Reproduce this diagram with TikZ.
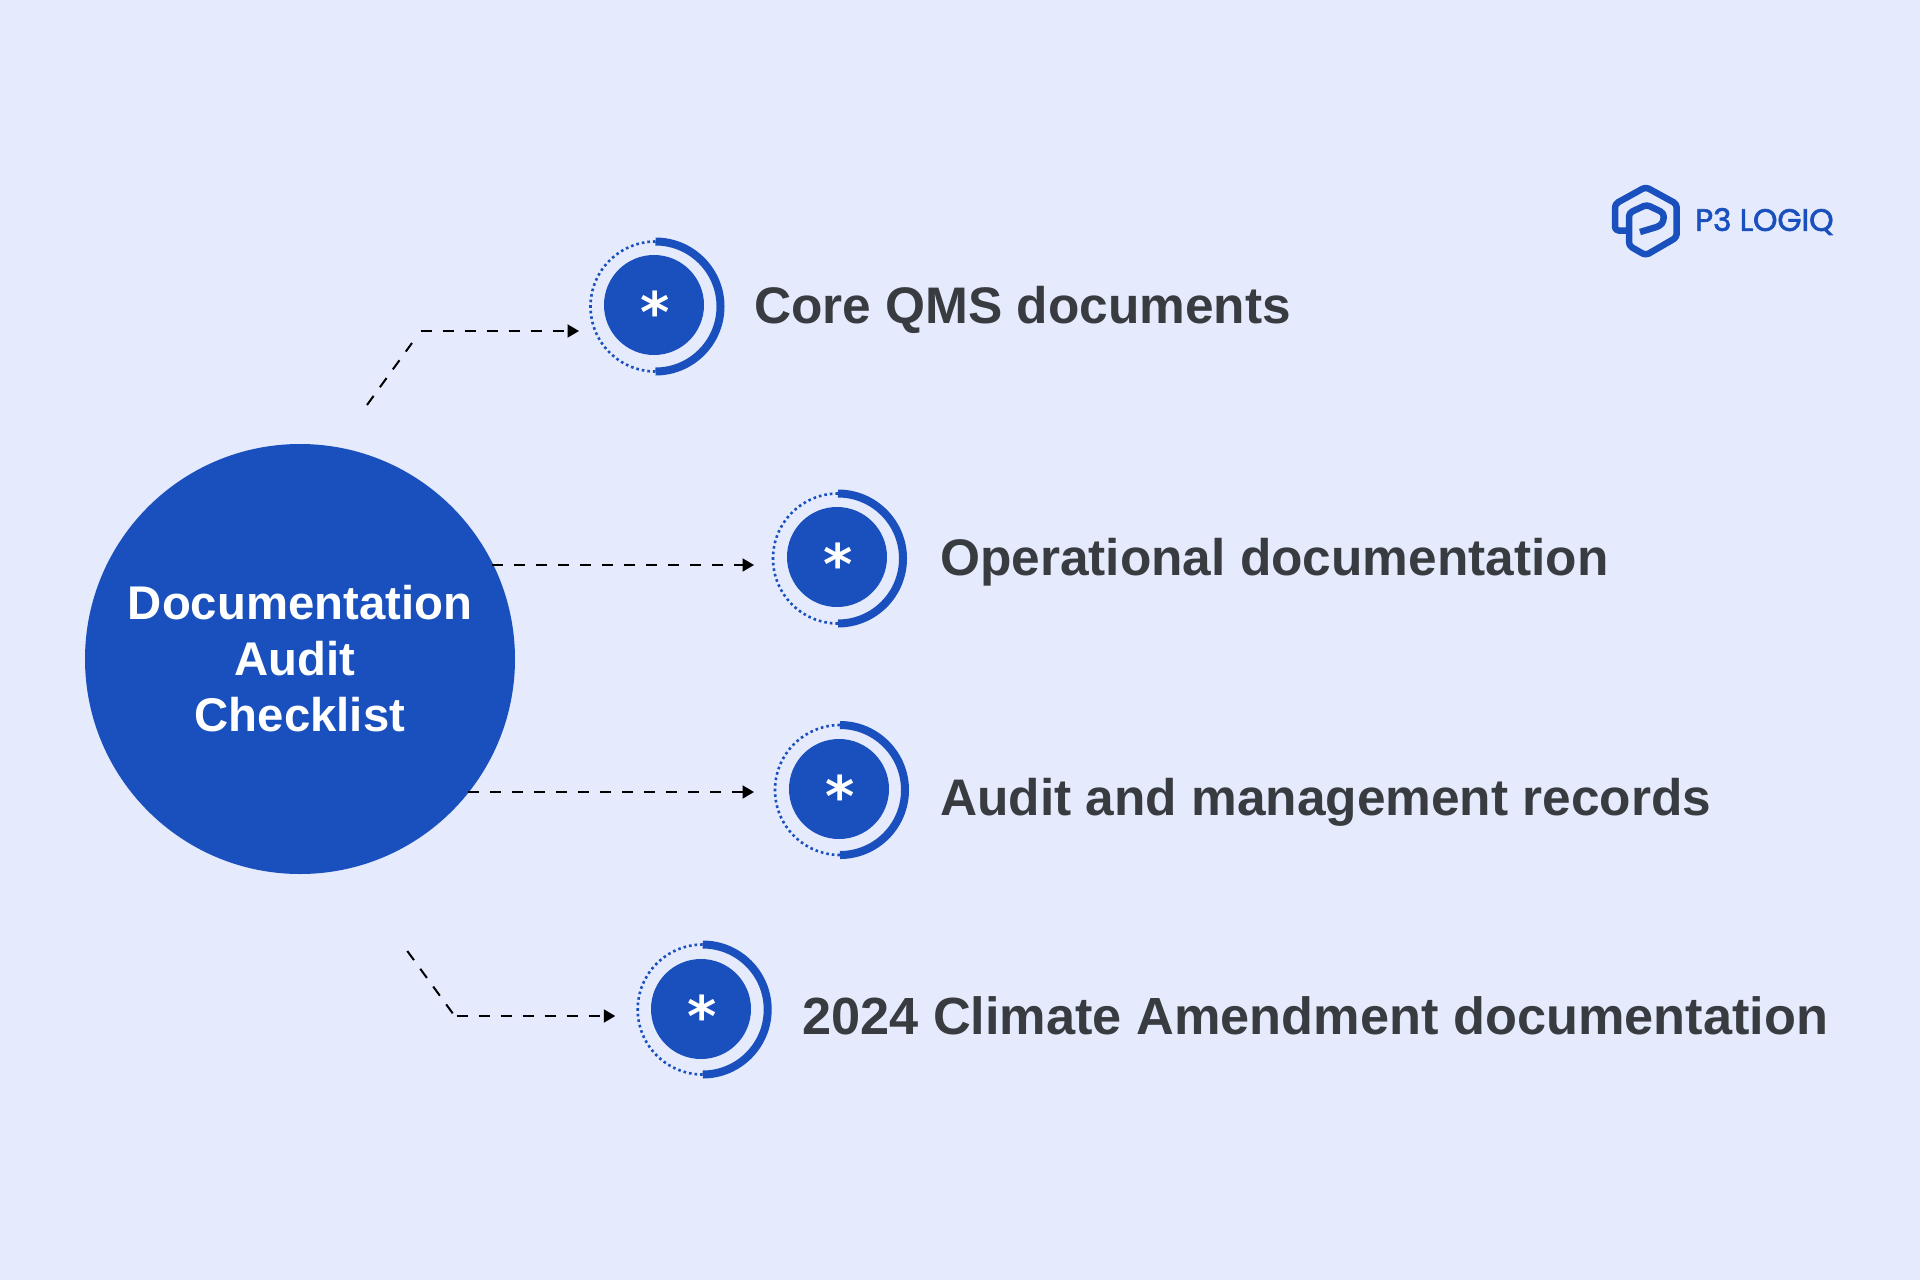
\documentclass[tikz,border=0pt]{standalone}
\usepackage{fontspec}
\setmainfont{Liberation Sans}
\newfontfamily\starfont{DejaVu Sans}
\newfontfamily\logofont[FakeBold=2]{Poppins}
\usetikzlibrary{arrows.meta}
\definecolor{bgc}{HTML}{E5EAFD}
\definecolor{bluec}{HTML}{1A50BD}
\definecolor{txtc}{HTML}{383B3F}
\tikzset{
  x=1pt,y=-1pt,
  hub/.style={circle,fill=bluec,draw=none,minimum size=430pt,inner sep=0pt},
  dot/.style={circle,fill=bluec,draw=none,minimum size=100pt,inner sep=0pt},
  star/.style={text=white,font=\fontsize{56}{56}\selectfont\starfont\bfseries,inner sep=0pt},
  itemtext/.style={text=txtc,anchor=west,font=\fontsize{51.4}{60}\selectfont\bfseries,inner sep=0pt},
  hubtext/.style={text=white,align=center,font=\fontsize{47.3}{56}\selectfont\bfseries},
  link/.style={draw=black,line width=2pt,dash pattern=on 11.3pt off 10.7pt,-{Triangle[length=11.5pt,width=13pt]}},
  linkplain/.style={draw=black,line width=2pt,dash pattern=on 11.3pt off 10.7pt},
  arcsolid/.style={draw=bluec,line width=8pt},
  arcdot/.style={draw=bluec,line width=2.6pt,dash pattern=on 2.6pt off 3pt},
}
\newcommand{\ringdot}[2]{%
  \draw[arcsolid] (#1,#2-65) arc[start angle=90,end angle=-90,radius=65pt];
  \draw[arcdot] (#1,#2-65) arc[start angle=90,end angle=270,radius=65pt];
}
\begin{document}
\begin{tikzpicture}
\useasboundingbox (0,0) rectangle (1920,1280);
\fill[bgc] (0,0) rectangle (1920,1280);
\node[hub] (hub) at (300,659) {};
\node[hubtext] (hubt) at (300,659) {Documentation\\Audit\rule{10pt}{0pt}\\Checklist};

% item 1
\ringdot{655.5}{306.5}
\node[dot] (d1) at (654,305) {};
\node[star] (s1) at (655.5,312) {*};
\node[itemtext] (t1) at (754,310) {Core QMS documents};
% item 2
\ringdot{838}{558.5}
\node[dot] (d2) at (837,557) {};
\node[star] (s2) at (838,564) {*};
\node[itemtext] (t2) at (940,562) {Operational documentation};
% item 3
\ringdot{840}{790}
\node[dot] (d3) at (839,789) {};
\node[star] (s3) at (840,796) {*};
\node[itemtext] (t3) at (940,802) {Audit and management records};
% item 4
\ringdot{702.7}{1009.5}
\node[dot] (d4) at (701,1009) {};
\node[star] (s4) at (702.3,1016) {*};
\node[itemtext,font=\fontsize{52.3}{60}\selectfont\bfseries] (t4) at (802,1016) {2024 Climate Amendment documentation};

\coordinate (a1s) at (367,405);
\coordinate (a1m) at (412,343);
\coordinate (a1h) at (420.7,331);
\coordinate (a1e) at (579,331);
\coordinate (a2s) at (492,565);
\coordinate (a2e) at (754,565);
\coordinate (a3s) at (468,792);
\coordinate (a3e) at (754,792);
\coordinate (a4s) at (407.3,951);
\coordinate (a4m) at (452.7,1013.3);
\coordinate (a4h) at (456.7,1016);
\coordinate (a4e) at (615.3,1016);
\draw[linkplain] (a1s) -- (a1m);
\draw[link] (a1h) -- (a1e);
\draw[link] (a2s) -- (a2e);
\draw[link] (a3s) -- (a3e);
\draw[linkplain] (a4s) -- (a4m);
\draw[link] (a4h) -- (a4e);

% logo
\draw[bluec,line width=6.5pt,line join=round,line cap=butt,rounded corners=3.5pt]
 (1640,232) -- (1660,226) -- (1663.7,221) -- (1663.7,213) -- (1646.7,204.7) -- (1629,213) -- (1629,245.7) -- (1645.7,255.3) -- (1676.7,237.3) -- (1676.7,204) -- (1645.7,187) -- (1615,204) -- (1615,230.5) -- (1628,230.5);
\node[text=bluec,anchor=west,inner sep=0pt,font=\fontsize{31}{31}\selectfont\logofont] (logo) at (1695,221.5) {P3 LOGIQ};
\end{tikzpicture}
\end{document}
